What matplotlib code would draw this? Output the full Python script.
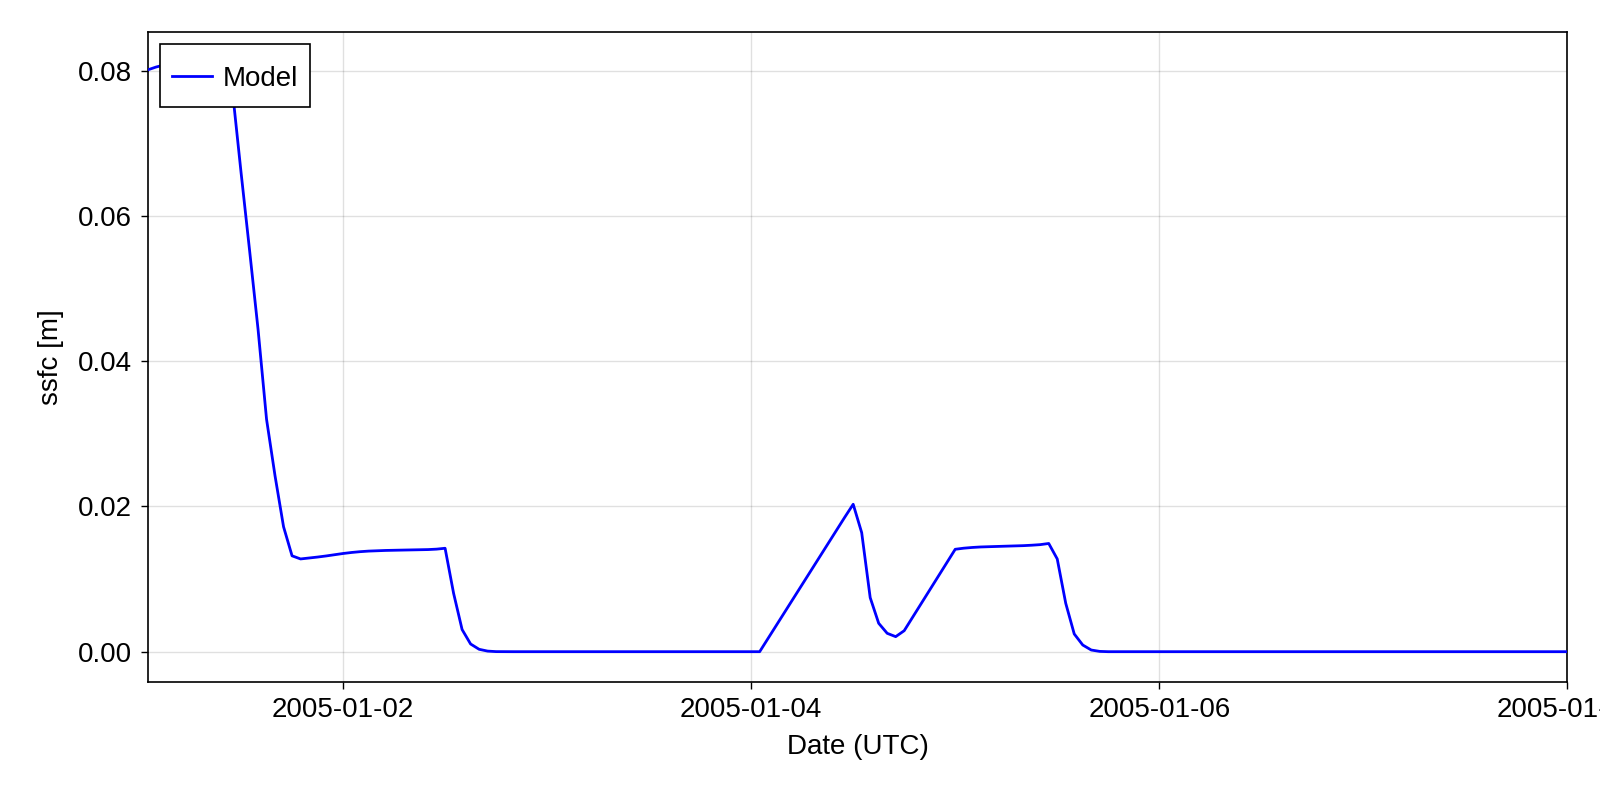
import matplotlib
matplotlib.use("Agg")
import matplotlib.pyplot as plt
import matplotlib.dates as mdates
import numpy as np
import pandas as pd

plt.rcParams['font.family'] = ['Liberation Sans', 'DejaVu Sans']

# hourly time axis starting 2005-01-01 01:00
start_time = "2005-01-01 01:00"
n_hours = 168

# ssfc values [m], one per hour
ssfc = [
    # h0 - h9
    0.0801, 0.0805, 0.0808, 0.0810, 0.0812, 0.0813, 0.0813, 0.0813, 0.0812, 0.0810,
    # h10 - h19
    0.0771, 0.0660, 0.0553, 0.0444, 0.0320, 0.0242, 0.0172, 0.0132, 0.01277, 0.01290,
    # h20 - h29
    0.01303, 0.01318, 0.01335, 0.01352, 0.01366, 0.01377, 0.01385, 0.01390, 0.01394, 0.01397,
    # h30 - h39
    0.01399, 0.01401, 0.01403, 0.01406, 0.01412, 0.01424, 0.00804, 0.00305, 0.00106, 0.00033,
    # h40 - h49
    0.00008, 0.00001, 0.0, 0.0, 0.0, 0.0, 0.0, 0.0, 0.0, 0.0,
    # h50 - h59
    0.0, 0.0, 0.0, 0.0, 0.0, 0.0, 0.0, 0.0, 0.0, 0.0,
    # h60 - h69
    0.0, 0.0, 0.0, 0.0, 0.0, 0.0, 0.0, 0.0, 0.0, 0.0,
    # h70 - h79
    0.0, 0.0, 0.0, 0.00185, 0.00370, 0.00555, 0.00740, 0.00925, 0.01110, 0.01295,
    # h80 - h89
    0.01480, 0.01665, 0.01850, 0.02030, 0.01639, 0.00744, 0.00391, 0.00253, 0.00207, 0.00289,
    # h90 - h99
    0.00476, 0.00663, 0.00850, 0.01037, 0.01224, 0.01410, 0.01425, 0.01435, 0.01442, 0.01446,
    # h100 - h109
    0.01450, 0.01453, 0.01456, 0.01460, 0.01466, 0.01474, 0.01490, 0.01277, 0.00666, 0.00244,
    # h110 - h119
    0.00092, 0.00023, 0.00004, 0.0, 0.0, 0.0, 0.0, 0.0, 0.0, 0.0,
    # h120 - h129
    0.0, 0.0, 0.0, 0.0, 0.0, 0.0, 0.0, 0.0, 0.0, 0.0,
    # h130 - h139
    0.0, 0.0, 0.0, 0.0, 0.0, 0.0, 0.0, 0.0, 0.0, 0.0,
    # h140 - h149
    0.0, 0.0, 0.0, 0.0, 0.0, 0.0, 0.0, 0.0, 0.0, 0.0,
    # h150 - h159
    0.0, 0.0, 0.0, 0.0, 0.0, 0.0, 0.0, 0.0, 0.0, 0.0,
    # h160 - h167
    0.0, 0.0, 0.0, 0.0, 0.0, 0.0, 0.0, 0.0,
]
assert len(ssfc) == n_hours

x_ticks = ["2005-01-02", "2005-01-04", "2005-01-06", "2005-01-08"]
y_ticks = [0.00, 0.02, 0.04, 0.06, 0.08]

times = pd.date_range(start_time, periods=n_hours, freq="h")

fig = plt.figure(figsize=(16, 8), dpi=100)
ax = fig.add_axes([0.0922, 0.1479, 0.9796 - 0.0922, 0.9604 - 0.1479])

ax.plot(times, ssfc, color=(0, 0, 1), lw=2.0, label="Model", zorder=3)

ax.set_xlim(times[0], times[-1])
ax.set_ylim(-0.00413, 0.08537)

ax.set_xticks(pd.to_datetime(x_ticks))
ax.xaxis.set_major_formatter(mdates.DateFormatter("%Y-%m-%d"))
ax.set_yticks(y_ticks)
ax.yaxis.set_major_formatter(matplotlib.ticker.FormatStrFormatter("%.2f"))

ax.grid(True, color="black", alpha=0.12, lw=1.0)
ax.set_axisbelow(True)
for s in ax.spines.values():
    s.set_linewidth(1.2)
    s.set_color("black")

ax.tick_params(axis="both", direction="out", length=5, width=1.0, labelsize=20, color="black")
ax.tick_params(axis="x", pad=6)
ax.tick_params(axis="y", pad=6)

ax.set_xlabel("Date (UTC)", fontsize=20, labelpad=8)
ax.set_ylabel("ssfc [m]", fontsize=20, labelpad=10)

leg = ax.legend(loc="upper left", bbox_to_anchor=(12.7 / 1419.8, 1 - 12.2 / 650.0),
                borderaxespad=0, fontsize=20, frameon=True, fancybox=False,
                handlelength=1.44, handleheight=1.82, handletextpad=0.4,
                borderpad=0.42, framealpha=1)
leg.get_frame().set_edgecolor("black")
leg.get_frame().set_linewidth(1.2)
# vertically center text and handle inside the taller legend box
try:
    for col in leg._legend_handle_box.get_children():
        for item in col.get_children():
            item.align = "center"
    leg.get_texts()[0].set_y(-4)
    hl = leg.get_lines()[0]
    hl.set_ydata(np.asarray(hl.get_ydata()) - 4.3)
except Exception:
    pass

fig.savefig("out.png", dpi=100)
